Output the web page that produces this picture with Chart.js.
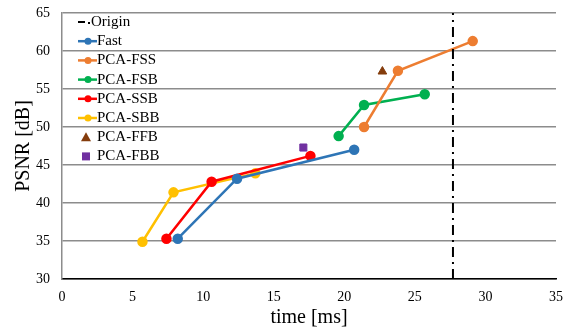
<!DOCTYPE html>
<html>
<head>
<meta charset="utf-8">
<script src="https://cdn.jsdelivr.net/npm/chart.js@4"></script>
<style>
  html, body { margin: 0; padding: 0; background: #fff; }
  #wrap { width: 577px; height: 331px; }
</style>
</head>
<body>
<div id="wrap"><canvas id="psnrChart" width="577" height="331"></canvas></div>
<script>
// values: time [ms] and PSNR [dB]
let originX = [27.7, 27.7];
let originY = [30, 65];
let fastX = [8.2, 12.4, 20.7];
let fastY = [35.3, 43.2, 47.0];
let fssX = [21.4, 23.8, 29.1];
let fssY = [50.0, 57.4, 61.3];
let fsbX = [19.6, 21.4, 25.7];
let fsbY = [48.8, 52.9, 54.3];
let ssbX = [7.4, 10.6, 17.6];
let ssbY = [35.3, 42.8, 46.2];
let sbbX = [5.7, 7.9, 13.7];
let sbbY = [34.9, 41.4, 43.9];
let ffbX = [22.7];
let ffbY = [57.3];
let fbbX = [17.1];
let fbbY = [47.3];
let xTicks = [0, 5, 10, 15, 20, 25, 30, 35];
let yTicks = [30, 35, 40, 45, 50, 55, 60, 65];

const serif = "'Liberation Serif', 'Times New Roman', serif";

function pts(xs, ys) {
    return xs.map((x, i) => ({x: x, y: ys[i]}));
}

function lineSet(label, xs, ys, color) {
    return {
        label: label,
        data: pts(xs, ys),
        showLine: true,
        borderColor: color,
        backgroundColor: color,
        borderWidth: 2.5,
        pointRadius: 4,
        pointHoverRadius: 4,
        pointStyle: 'circle'
    };
}

let datasets = [
    {
        label: 'Origin',
        data: pts(originX, originY),
        showLine: true,
        borderColor: '#000000',
        backgroundColor: '#000000',
        borderWidth: 2,
        borderDash: [10, 5, 2, 5],
        pointRadius: 0,
        legendDash: true
    },
    lineSet('Fast', fastX, fastY, '#2E75B6'),
    lineSet('PCA-FSS', fssX, fssY, '#ED7D31'),
    lineSet('PCA-FSB', fsbX, fsbY, '#00B050'),
    lineSet('PCA-SSB', ssbX, ssbY, '#FF0000'),
    lineSet('PCA-SBB', sbbX, sbbY, '#FFC000'),
    {
        label: 'PCA-FFB',
        data: pts(ffbX, ffbY),
        showLine: false,
        borderColor: '#843C0C',
        backgroundColor: '#843C0C',
        pointStyle: 'triangle',
        pointRadius: 5
    },
    {
        label: 'PCA-FBB',
        data: pts(fbbX, fbbY),
        showLine: false,
        borderColor: '#7030A0',
        backgroundColor: '#7030A0',
        pointStyle: 'rect',
        pointRadius: 5
    }
];

// legend drawn inside the plot area, top left
const insideLegend = {
    id: 'insideLegend',
    afterDraw(chart) {
        let ctx = chart.ctx;
        let x0 = chart.chartArea.left + 16;
        let y0 = chart.chartArea.top + 9;
        let rowH = 19.2;
        ctx.save();
        ctx.font = '15px ' + serif;
        ctx.textBaseline = 'middle';
        ctx.fillStyle = '#000';
        chart.data.datasets.forEach((ds, i) => {
            let y = y0 + i * rowH;
            if (ds.legendDash) {
                ctx.strokeStyle = '#000';
                ctx.lineWidth = 2;
                ctx.beginPath();
                ctx.moveTo(x0, y); ctx.lineTo(x0 + 7, y);
                ctx.moveTo(x0 + 10, y + 1); ctx.lineTo(x0 + 12, y + 1);
                ctx.stroke();
                ctx.fillText('Origin', x0 + 13, y);
            } else if (ds.showLine) {
                ctx.strokeStyle = ds.borderColor;
                ctx.lineWidth = 2.5;
                ctx.beginPath();
                ctx.moveTo(x0, y); ctx.lineTo(x0 + 19, y);
                ctx.stroke();
                ctx.fillStyle = ds.borderColor;
                ctx.beginPath();
                ctx.arc(x0 + 10, y, 3.5, 0, Math.PI * 2);
                ctx.fill();
                ctx.fillStyle = '#000';
                ctx.fillText(ds.label, x0 + 19, y);
            } else {
                ctx.fillStyle = ds.backgroundColor;
                if (ds.pointStyle === 'triangle') {
                    ctx.beginPath();
                    ctx.moveTo(x0 + 8, y - 5);
                    ctx.lineTo(x0 + 13, y + 4);
                    ctx.lineTo(x0 + 3, y + 4);
                    ctx.closePath();
                    ctx.fill();
                } else {
                    ctx.fillRect(x0 + 4, y - 4, 8, 8);
                }
                ctx.fillStyle = '#000';
                ctx.fillText(ds.label, x0 + 19, y);
            }
        });
        ctx.restore();
    }
};

new Chart(document.getElementById('psnrChart').getContext('2d'), {
    type: 'scatter',
    data: {datasets: datasets},
    options: {
        responsive: false,
        animation: false,
        layout: {padding: {top: 13, right: 21, left: 0, bottom: 0}},
        plugins: {
            legend: {display: false},
            tooltip: {enabled: false}
        },
        scales: {
            x: {
                type: 'linear',
                min: 0,
                max: 35,
                afterBuildTicks: s => { s.ticks = xTicks.map(v => ({value: v})); },
                afterFit: s => { s.height = 52; },
                grid: {display: false, drawTicks: false},
                border: {color: '#000', width: 1.5},
                ticks: {color: '#000', font: {family: serif, size: 14}, padding: 10, maxRotation: 0},
                title: {display: true, text: 'time [ms]', color: '#000', font: {family: serif, size: 20}, padding: {top: 2, bottom: 1}}
            },
            y: {
                type: 'linear',
                min: 30,
                max: 65,
                afterBuildTicks: s => { s.ticks = yTicks.map(v => ({value: v})); },
                afterFit: s => { s.width = 62; s.paddingTop = 0; s.paddingBottom = 0; },
                grid: {color: '#8c8c8c', lineWidth: 1.5, drawTicks: false},
                border: {color: '#8c8c8c', width: 1.5},
                ticks: {color: '#000', font: {family: serif, size: 14}, padding: 12},
                title: {display: true, text: 'PSNR [dB]', color: '#000', font: {family: serif, size: 20}, padding: {top: 12, bottom: 2}}
            }
        }
    },
    plugins: [insideLegend]
});
</script>
</body>
</html>
